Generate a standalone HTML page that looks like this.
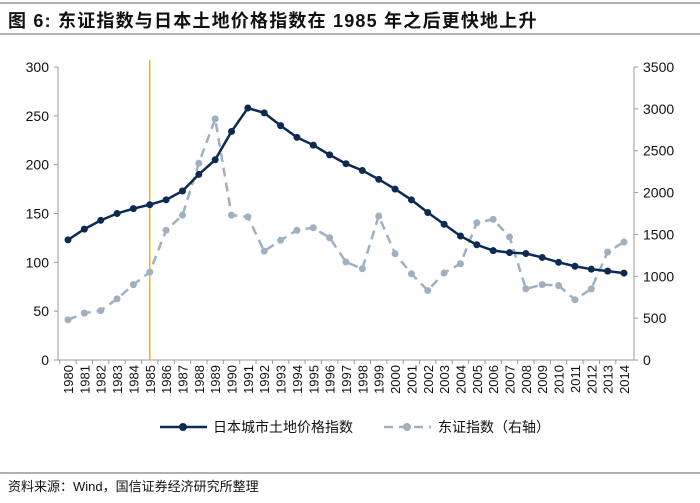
<!DOCTYPE html>
<html><head><meta charset="utf-8"><style>
body{margin:0;background:#fff;}
svg text{font-family:"Liberation Sans","Noto Sans CJK SC",sans-serif;}
</style></head><body>
<svg id="c" width="700" height="498" xmlns="http://www.w3.org/2000/svg">
<line x1="0" y1="3" x2="700" y2="3" stroke="#999" stroke-width="1.5"/>
<text x="8" y="27" font-size="18" font-weight="bold" letter-spacing="1.2" fill="#111">图 6:  东证指数与日本土地价格指数在 1985 年之后更快地上升</text>
<line x1="0" y1="34" x2="700" y2="34" stroke="#999" stroke-width="1.5"/>
<line x1="0" y1="473" x2="700" y2="473" stroke="#999" stroke-width="1.5"/>
<text x="8" y="491" font-size="13" fill="#111">资料来源：Wind，国信证券经济研究所整理</text>
<g id="plot"></g>
</svg>
<script>
const years=[1980,1981,1982,1983,1984,1985,1986,1987,1988,1989,1990,1991,1992,1993,1994,1995,1996,1997,1998,1999,2000,2001,2002,2003,2004,2005,2006,2007,2008,2009,2010,2011,2012,2013,2014];
const landIndex=[123,134,143,150,155,159,164,173,190,205,234,258,253,240,228,220,210,201,194,185,175,164,151,139,127,118,112,110,109,105,100,96,93,91,89];
const topix=[480,560,590,730,900,1050,1550,1730,2350,2880,1730,1710,1300,1430,1550,1580,1460,1170,1090,1720,1270,1030,830,1040,1150,1640,1680,1470,850,900,890,720,850,1290,1410];
const leftTicks=[0,50,100,150,200,250,300];
const rightTicks=[0,500,1000,1500,2000,2500,3000,3500];
const NS="http://www.w3.org/2000/svg";
const g=document.getElementById('plot');
const X0=58,X1=634,Y0=360,Y1=67;
const xs=i=>68+i*(624-68)/(years.length-1);
const yl=v=>Y0-(v/300)*(Y0-Y1);
const yr=v=>Y0-(v/3500)*(Y0-Y1);
function mk(t,a){const e=document.createElementNS(NS,t);for(const k in a)e.setAttribute(k,a[k]);g.appendChild(e);return e;}
let e;
e=mk('line',{x1:X0,y1:Y1,x2:X0,y2:Y0,stroke:'#999'});


e=mk('line',{x1:X1,y1:Y1,x2:X1,y2:Y0,stroke:'#999'});


e=mk('line',{x1:X0,y1:Y0,x2:X1,y2:Y0,stroke:'#999'});


leftTicks.forEach(v=>{
 mk('line',{x1:X0-4,y1:yl(v),x2:X0,y2:yl(v),stroke:'#999'});
 e=mk('text',{x:X0-9,y:yl(v)+5,'font-size':14,'text-anchor':'end',fill:'#111'});e.textContent=v;
 
 
});
rightTicks.forEach(v=>{
 mk('line',{x1:X1,y1:yr(v),x2:X1+4,y2:yr(v),stroke:'#999'});
 e=mk('text',{x:X1+9,y:yr(v)+5,'font-size':14,'text-anchor':'start',fill:'#111'});e.textContent=v;
 
 
});
years.forEach((y,i)=>{
 const x=xs(i);
 mk('line',{x1:x-8.2,y1:Y0,x2:x-8.2,y2:Y0+4,stroke:'#999'});
 e=mk('text',{x:0,y:0,'font-size':13,'text-anchor':'end',fill:'#111',transform:`translate(${x+5},${Y0+5}) rotate(-90)`});e.textContent=y;
 
 
});
e=mk('line',{x1:xs(5),y1:60,x2:xs(5),y2:Y0,stroke:'#f2b705','stroke-width':1.5});


e=mk('polyline',{points:topix.map((v,i)=>xs(i)+','+yr(v)).join(' '),fill:'none',stroke:'#9fb0c0','stroke-width':2.5,'stroke-dasharray':'9,6'});


topix.forEach((v,i)=>{e=mk('circle',{cx:xs(i),cy:yr(v),r:3.5,fill:'#9fb0c0'});
 
 });
e=mk('polyline',{points:landIndex.map((v,i)=>xs(i)+','+yl(v)).join(' '),fill:'none',stroke:'#0d2a52','stroke-width':2.5});


landIndex.forEach((v,i)=>{e=mk('circle',{cx:xs(i),cy:yl(v),r:3.5,fill:'#0d2a52'});
 
 });
mk('line',{x1:160,y1:427,x2:207,y2:427,stroke:'#0d2a52','stroke-width':2.5});
mk('circle',{cx:183,cy:427,r:4,fill:'#0d2a52'});
e=mk('text',{x:213,y:432,'font-size':14,fill:'#111'});e.textContent='日本城市土地价格指数';


mk('line',{x1:384,y1:427,x2:431,y2:427,stroke:'#9fb0c0','stroke-width':2.5,'stroke-dasharray':'9,6'});
mk('circle',{cx:407,cy:427,r:4,fill:'#9fb0c0'});
e=mk('text',{x:438,y:432,'font-size':14,fill:'#111'});e.textContent='东证指数（右轴）';


</script>
</body></html>
